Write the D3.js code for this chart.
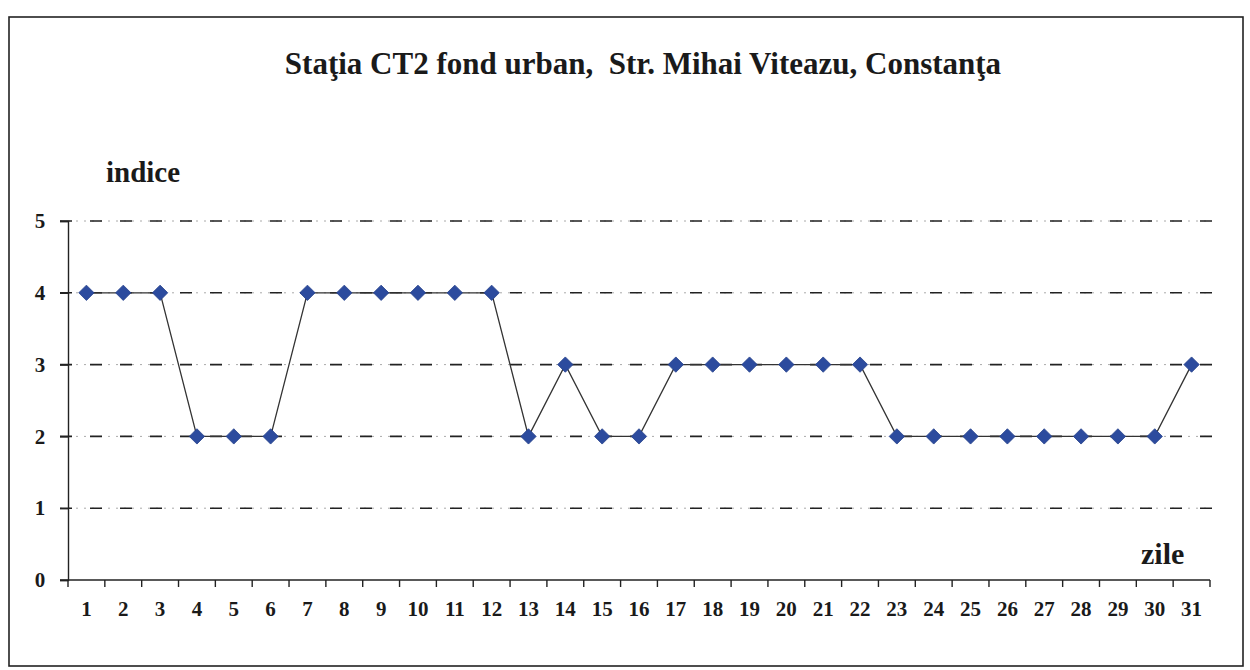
<!DOCTYPE html>
<html>
<head>
<meta charset="utf-8">
<script src="https://cdn.jsdelivr.net/npm/d3@7"></script>
<style>
  body { margin: 0; background: #fff; }
  text { font-family: "Liberation Serif", "Times New Roman", serif; font-weight: bold; fill: #1a1a1a; }
</style>
</head>
<body>
<svg id="chart" width="1250" height="670"></svg>
<script>
// Staţia CT2 - indice zilnic
var zile = d3.range(1, 32);
var indice = [4, 4, 4, 2, 2, 2, 4, 4, 4, 4, 4, 4, 2, 3, 2, 2, 3, 3, 3, 3, 3, 3, 2, 2, 2, 2, 2, 2, 2, 2, 3];
var yTicks = [0, 1, 2, 3, 4, 5];

var titlu = "Staţia CT2 fond urban,\u00a0 Str. Mihai Viteazu, Constanţa";

var svg = d3.select("#chart");

// frame
svg.append("rect")
    .attr("x", 9).attr("y", 17)
    .attr("width", 1234).attr("height", 649)
    .attr("fill", "none")
    .attr("stroke", "#222")
    .attr("stroke-width", 1.6);

var x = d3.scaleBand().domain(zile).range([68, 1210]);
var y = d3.scaleLinear().domain([0, 5]).range([580, 221]);

// grid lines (dash + dot)
var grid = svg.append("g").attr("class", "grid");
yTicks.filter(function(d) { return d > 0; }).forEach(function(d) {
    grid.append("line")
        .attr("x1", 60).attr("x2", 1212)
        .attr("y1", y(d)).attr("y2", y(d))
        .attr("stroke", "#aaa")
        .attr("stroke-width", 1)
        .attr("stroke-dasharray", "2,6");
    grid.append("line")
        .attr("x1", 60).attr("x2", 1212)
        .attr("y1", y(d)).attr("y2", y(d))
        .attr("stroke", "#222")
        .attr("stroke-width", 1.6)
        .attr("stroke-dasharray", "12,18");
});

// y axis
var yAxis = svg.append("g")
    .attr("transform", "translate(68,0)")
    .call(d3.axisLeft(y).tickValues(yTicks).tickSize(8).tickFormat(d3.format("d")));
yAxis.select(".domain").attr("stroke", "#222").attr("stroke-width", 1.4);
yAxis.selectAll(".tick line").attr("stroke", "#222").attr("stroke-width", 1.4);
yAxis.selectAll(".tick text")
    .attr("x", -28)
    .style("font-size", "21px")
    .style("font-family", "Liberation Serif, serif")
    .style("font-weight", "bold")
    .attr("text-anchor", "middle");

// x axis
var xAxis = svg.append("g")
    .attr("transform", "translate(0," + y(0) + ")");
xAxis.append("line")
    .attr("x1", 60).attr("x2", 1210)
    .attr("stroke", "#222").attr("stroke-width", 1.6);
xAxis.selectAll("line.tk")
    .data(zile.concat([32]))
    .enter().append("line")
    .attr("class", "tk")
    .attr("x1", function(d) { return d <= 31 ? x(d) : x(31) + x.bandwidth(); })
    .attr("x2", function(d) { return d <= 31 ? x(d) : x(31) + x.bandwidth(); })
    .attr("y1", 0).attr("y2", 7)
    .attr("stroke", "#222").attr("stroke-width", 1.4);
xAxis.selectAll("text")
    .data(zile)
    .enter().append("text")
    .attr("x", function(d) { return x(d) + x.bandwidth() / 2; })
    .attr("y", 36)
    .attr("text-anchor", "middle")
    .style("font-size", "21px")
    .text(function(d) { return d; });

// series line
var line = d3.line()
    .x(function(d, i) { return x(zile[i]) + x.bandwidth() / 2; })
    .y(function(d) { return y(d); });

svg.append("path")
    .datum(indice)
    .attr("d", line)
    .attr("fill", "none")
    .attr("stroke", "#333")
    .attr("stroke-width", 1.3);

// diamond markers
svg.selectAll("path.pt")
    .data(indice)
    .enter().append("path")
    .attr("class", "pt")
    .attr("d", d3.symbol().type(d3.symbolDiamond2).size(150))
    .attr("transform", function(d, i) {
        return "translate(" + (x(zile[i]) + x.bandwidth() / 2) + "," + y(d) + ")";
    })
    .attr("fill", "#2c4b9e")
    .attr("stroke", "#24408a")
    .attr("stroke-width", 0.8);

// titles
svg.append("text")
    .attr("x", 643).attr("y", 74)
    .attr("text-anchor", "middle")
    .style("font-size", "31px")
    .text(titlu);

svg.append("text")
    .attr("x", 106).attr("y", 182)
    .style("font-size", "29px")
    .text("indice");

svg.append("text")
    .attr("x", 1141).attr("y", 564)
    .style("font-size", "30px")
    .text("zile");
</script>
</body>
</html>
